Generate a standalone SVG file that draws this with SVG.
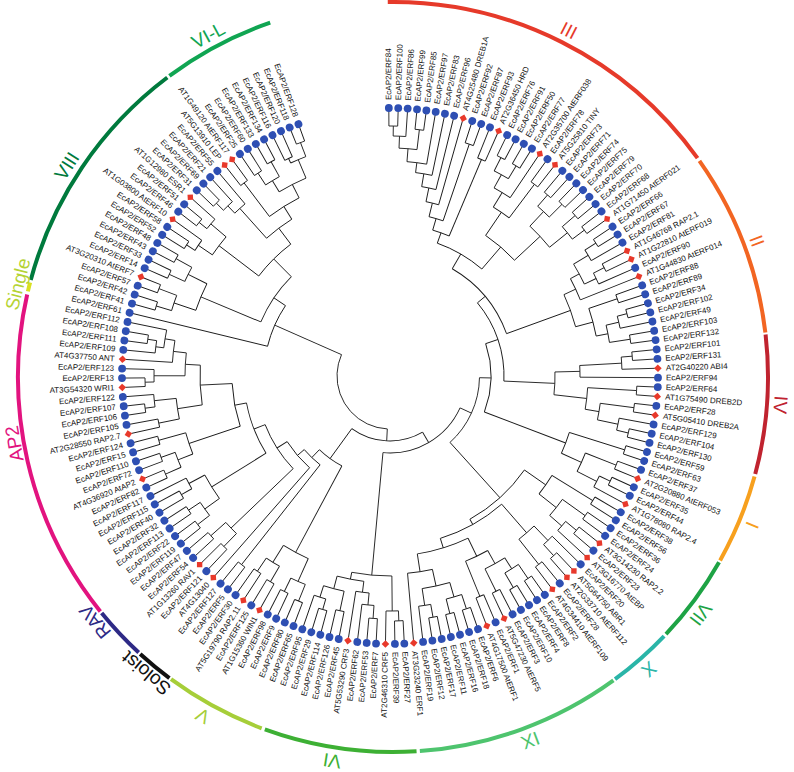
<svg xmlns="http://www.w3.org/2000/svg" width="794" height="772" viewBox="0 0 794 772">
<style>
.t path,.t circle{fill:none;stroke:#1a1a1a;stroke-width:.9}
.lv text{font-family:"Liberation Sans",Arial,sans-serif;font-size:8px;fill:#111;dominant-baseline:central}
.lv .f{text-anchor:end}
.rg circle{fill:none;stroke-width:4}
.lb text{font-family:"Liberation Sans",Arial,sans-serif;font-size:19px;text-anchor:middle}
</style>
<defs>
<circle id="b" cx="268" cy="0" r="3.9" fill="#2e4fb3"/>
<rect id="d" x="265.3" y="-2.7" width="5.4" height="5.4" fill="#e8392b" transform="rotate(45 268 0)"/>
</defs>
<rect width="794" height="772" fill="#fff"/>
<g id="ring" class="rg" transform="translate(393 377)">
<circle r="375" pathLength="360" stroke-dasharray="55.1 999" transform="rotate(-90.8)" stroke="#e63a2a"/>
<circle r="375" pathLength="360" stroke-dasharray="28.4 999" transform="rotate(-35.2)" stroke="#f26522"/>
<circle r="375" pathLength="360" stroke-dasharray="21.5 999" transform="rotate(-6.5)" stroke="#c0232f"/>
<circle r="375" pathLength="360" stroke-dasharray="13.9 999" transform="rotate(15.4)" stroke="#f7a01e"/>
<circle r="375" pathLength="360" stroke-dasharray="13.7 999" transform="rotate(29.6)" stroke="#1ea345"/>
<circle r="375" pathLength="360" stroke-dasharray="10 999" transform="rotate(43.7)" stroke="#2ab5a8"/>
<circle r="375" pathLength="360" stroke-dasharray="31.9 999" transform="rotate(54)" stroke="#4ec46e"/>
<circle r="375" pathLength="360" stroke-dasharray="23.6 999" transform="rotate(86.4)" stroke="#3db034"/>
<circle r="375" pathLength="360" stroke-dasharray="15.8 999" transform="rotate(110.5)" stroke="#a6ce39"/>
<circle r="375" pathLength="360" stroke-dasharray="5.8 999" transform="rotate(126.6)" stroke="#111"/>
<circle r="375" pathLength="360" stroke-dasharray="8.3 999" transform="rotate(132.7)" stroke="#2e2a86"/>
<circle r="375" pathLength="360" stroke-dasharray="51.4 999" transform="rotate(141.3)" stroke="#e2137f"/>
<circle r="375" pathLength="360" stroke-dasharray="1.4 999" transform="rotate(193.2)" stroke="#d9e021"/>
<circle r="375" pathLength="360" stroke-dasharray="38 999" transform="rotate(195)" stroke="#007a3d"/>
<circle r="375" pathLength="360" stroke-dasharray="17.5 999" transform="rotate(233.4)" stroke="#10a552"/>
</g>
<g id="labels" class="lb">
<text transform="translate(393 377) rotate(26.9)" y="-382" fill="#e63a2a">III</text>
<text transform="translate(393 377) rotate(69.5)" y="-382" fill="#f26522">II</text>
<text transform="translate(393 377) rotate(94.1)" y="-382" fill="#c0232f">IV</text>
<text transform="translate(393 377) rotate(112.4)" y="-382" fill="#f7a01e">I</text>
<text transform="translate(393 377) rotate(127.6)" y="-382" fill="#1ea345">VII</text>
<text transform="translate(393 377) rotate(138.8)" y="-382" fill="#2ab5a8">X</text>
<text transform="translate(393 377) rotate(159.3)" y="-382" fill="#4ec46e">IX</text>
<text transform="translate(393 377) rotate(189)" y="-382" fill="#3db034">VI</text>
<text transform="translate(393 377) rotate(209.3)" y="-382" fill="#a6ce39">V</text>
<text transform="translate(393 377) rotate(219.8)" y="-379" fill="#111" font-size="14">Soloist</text>
<text transform="translate(393 377) rotate(230.6)" y="-379" fill="#2e2a86" font-size="16">RAV</text>
<text transform="translate(393 377) rotate(260)" y="-378" fill="#e2137f" font-size="18">AP2</text>
<text transform="translate(393 377) rotate(283.9)" y="-380" fill="#b5d334" font-size="8.5">Single</text>
<text transform="translate(393 377) rotate(302.9)" y="-382" fill="#007a3d">VIII</text>
<text transform="translate(393 377) rotate(331.6)" y="-382" fill="#10a552">VI-L</text>
</g>
<g id="connectors" class="t" transform="translate(390 376) rotate(-90.25)">
<circle r="53" pathLength="360" stroke-dasharray="110.88 999" transform="rotate(183.17)"/>
<circle r="250" pathLength="360" stroke-dasharray="2.01 999" transform="rotate(0)"/><path d="M240 0H250" transform="rotate(1.01)"/>
<circle r="240" pathLength="360" stroke-dasharray="3.02 999" transform="rotate(1.01)"/><path d="M228 0H240" transform="rotate(2.52)"/>
<circle r="248" pathLength="360" stroke-dasharray="2.01 999" transform="rotate(6.04)"/><path d="M228 0H248" transform="rotate(7.05)"/>
<circle r="228" pathLength="360" stroke-dasharray="4.53 999" transform="rotate(2.52)"/><path d="M215 0H228" transform="rotate(4.78)"/>
<circle r="215" pathLength="360" stroke-dasharray="5.29 999" transform="rotate(4.78)"/><path d="M205 0H215" transform="rotate(7.42)"/>
<circle r="205" pathLength="360" stroke-dasharray="4.66 999" transform="rotate(7.42)"/><path d="M192 0H205" transform="rotate(9.75)"/>
<circle r="192" pathLength="360" stroke-dasharray="4.34 999" transform="rotate(9.75)"/><path d="M178 0H192" transform="rotate(11.92)"/>
<circle r="178" pathLength="360" stroke-dasharray="4.19 999" transform="rotate(11.92)"/><path d="M164 0H178" transform="rotate(14.02)"/>
<circle r="245" pathLength="360" stroke-dasharray="2.02 999" transform="rotate(18.12)"/><path d="M164 0H245" transform="rotate(19.13)"/>
<circle r="164" pathLength="360" stroke-dasharray="5.11 999" transform="rotate(14.02)"/><path d="M152 0H164" transform="rotate(16.57)"/>
<circle r="235" pathLength="360" stroke-dasharray="2.01 999" transform="rotate(22.15)"/><path d="M152 0H235" transform="rotate(23.16)"/>
<circle r="152" pathLength="360" stroke-dasharray="6.59 999" transform="rotate(16.57)"/><path d="M141 0H152" transform="rotate(19.86)"/>
<circle r="245" pathLength="360" stroke-dasharray="2.01 999" transform="rotate(26.18)"/><path d="M230 0H245" transform="rotate(27.18)"/>
<circle r="245" pathLength="360" stroke-dasharray="2.02 999" transform="rotate(30.2)"/><path d="M230 0H245" transform="rotate(31.21)"/>
<circle r="230" pathLength="360" stroke-dasharray="4.03 999" transform="rotate(27.18)"/><path d="M215 0H230" transform="rotate(29.2)"/>
<circle r="215" pathLength="360" stroke-dasharray="5.03 999" transform="rotate(29.2)"/><path d="M198 0H215" transform="rotate(31.71)"/>
<circle r="240" pathLength="360" stroke-dasharray="2.02 999" transform="rotate(36.24)"/><path d="M198 0H240" transform="rotate(37.25)"/>
<circle r="198" pathLength="360" stroke-dasharray="5.54 999" transform="rotate(31.71)"/><path d="M170 0H198" transform="rotate(34.48)"/>
<circle r="240" pathLength="360" stroke-dasharray="2.01 999" transform="rotate(40.27)"/><path d="M225 0H240" transform="rotate(41.28)"/>
<circle r="243" pathLength="360" stroke-dasharray="2.01 999" transform="rotate(44.3)"/><path d="M225 0H243" transform="rotate(45.3)"/>
<circle r="225" pathLength="360" stroke-dasharray="4.02 999" transform="rotate(41.28)"/><path d="M205 0H225" transform="rotate(43.29)"/>
<circle r="245" pathLength="360" stroke-dasharray="2.02 999" transform="rotate(48.32)"/><path d="M228 0H245" transform="rotate(49.33)"/>
<circle r="243" pathLength="360" stroke-dasharray="2.01 999" transform="rotate(52.35)"/><path d="M228 0H243" transform="rotate(53.36)"/>
<circle r="228" pathLength="360" stroke-dasharray="4.03 999" transform="rotate(49.33)"/><path d="M205 0H228" transform="rotate(51.34)"/>
<circle r="205" pathLength="360" stroke-dasharray="8.05 999" transform="rotate(43.29)"/><path d="M170 0H205" transform="rotate(47.32)"/>
<circle r="170" pathLength="360" stroke-dasharray="12.84 999" transform="rotate(34.48)"/><path d="M141 0H170" transform="rotate(40.9)"/>
<circle r="141" pathLength="360" stroke-dasharray="21.04 999" transform="rotate(19.86)"/><path d="M124 0H141" transform="rotate(30.38)"/>
<circle r="245" pathLength="360" stroke-dasharray="2.01 999" transform="rotate(56.38)"/><path d="M232 0H245" transform="rotate(57.38)"/>
<circle r="232" pathLength="360" stroke-dasharray="3.03 999" transform="rotate(57.38)"/><path d="M215 0H232" transform="rotate(58.89)"/>
<circle r="240" pathLength="360" stroke-dasharray="2.01 999" transform="rotate(62.42)"/><path d="M228 0H240" transform="rotate(63.43)"/>
<circle r="228" pathLength="360" stroke-dasharray="3.02 999" transform="rotate(63.43)"/><path d="M215 0H228" transform="rotate(64.94)"/>
<circle r="215" pathLength="360" stroke-dasharray="6.05 999" transform="rotate(58.89)"/><path d="M205 0H215" transform="rotate(61.92)"/>
<circle r="205" pathLength="360" stroke-dasharray="6.54 999" transform="rotate(61.92)"/><path d="M192 0H205" transform="rotate(65.19)"/>
<circle r="240" pathLength="360" stroke-dasharray="2.02 999" transform="rotate(70.47)"/><path d="M210 0H240" transform="rotate(71.48)"/>
<circle r="245" pathLength="360" stroke-dasharray="2.01 999" transform="rotate(74.5)"/><path d="M235 0H245" transform="rotate(75.51)"/>
<circle r="235" pathLength="360" stroke-dasharray="3.02 999" transform="rotate(75.51)"/><path d="M222 0H235" transform="rotate(77.02)"/>
<circle r="243" pathLength="360" stroke-dasharray="2.01 999" transform="rotate(80.54)"/><path d="M222 0H243" transform="rotate(81.55)"/>
<circle r="222" pathLength="360" stroke-dasharray="4.53 999" transform="rotate(77.02)"/><path d="M210 0H222" transform="rotate(79.28)"/>
<circle r="210" pathLength="360" stroke-dasharray="7.8 999" transform="rotate(71.48)"/><path d="M192 0H210" transform="rotate(75.38)"/>
<circle r="192" pathLength="360" stroke-dasharray="10.19 999" transform="rotate(65.19)"/><path d="M124 0H192" transform="rotate(70.28)"/>
<circle r="124" pathLength="360" stroke-dasharray="39.9 999" transform="rotate(30.38)"/><path d="M114 0H124" transform="rotate(50.33)"/>
<circle r="243" pathLength="360" stroke-dasharray="2.01 999" transform="rotate(84.57)"/><path d="M232 0H243" transform="rotate(85.57)"/>
<circle r="232" pathLength="360" stroke-dasharray="3.02 999" transform="rotate(85.57)"/><path d="M190 0H232" transform="rotate(87.08)"/>
<circle r="190" pathLength="360" stroke-dasharray="3.53 999" transform="rotate(87.08)"/><path d="M165 0H190" transform="rotate(88.85)"/>
<circle r="247" pathLength="360" stroke-dasharray="2.01 999" transform="rotate(92.62)"/><path d="M198 0H247" transform="rotate(93.63)"/>
<circle r="246" pathLength="360" stroke-dasharray="2.01 999" transform="rotate(96.65)"/><path d="M212 0H246" transform="rotate(97.65)"/>
<circle r="245" pathLength="360" stroke-dasharray="2.01 999" transform="rotate(102.69)"/><path d="M233 0H245" transform="rotate(103.7)"/>
<circle r="233" pathLength="360" stroke-dasharray="3.02 999" transform="rotate(100.68)"/><path d="M212 0H233" transform="rotate(102.19)"/>
<circle r="212" pathLength="360" stroke-dasharray="4.54 999" transform="rotate(97.65)"/><path d="M198 0H212" transform="rotate(99.92)"/>
<circle r="198" pathLength="360" stroke-dasharray="6.29 999" transform="rotate(93.63)"/><path d="M165 0H198" transform="rotate(96.77)"/>
<circle r="165" pathLength="360" stroke-dasharray="7.92 999" transform="rotate(88.85)"/><path d="M114 0H165" transform="rotate(92.81)"/>
<circle r="114" pathLength="360" stroke-dasharray="42.48 999" transform="rotate(50.33)"/><path d="M101 0H114" transform="rotate(71.57)"/>
<circle r="246" pathLength="360" stroke-dasharray="2.01 999" transform="rotate(106.72)"/><path d="M188 0H246" transform="rotate(107.72)"/>
<circle r="243" pathLength="360" stroke-dasharray="2.02 999" transform="rotate(110.74)"/><path d="M210 0H243" transform="rotate(111.75)"/>
<circle r="244" pathLength="360" stroke-dasharray="2.01 999" transform="rotate(114.77)"/><path d="M232 0H244" transform="rotate(115.78)"/>
<circle r="232" pathLength="360" stroke-dasharray="3.02 999" transform="rotate(115.78)"/><path d="M210 0H232" transform="rotate(117.29)"/>
<circle r="210" pathLength="360" stroke-dasharray="5.54 999" transform="rotate(111.75)"/><path d="M188 0H210" transform="rotate(114.52)"/>
<circle r="188" pathLength="360" stroke-dasharray="6.8 999" transform="rotate(107.72)"/><path d="M101 0H188" transform="rotate(111.12)"/>
<circle r="101" pathLength="360" stroke-dasharray="39.55 999" transform="rotate(71.57)"/><path d="M89.5 0H101" transform="rotate(91.35)"/>
<circle r="238" pathLength="360" stroke-dasharray="2.01 999" transform="rotate(120.81)"/><path d="M190 0H238" transform="rotate(121.82)"/>
<circle r="240" pathLength="360" stroke-dasharray="2.01 999" transform="rotate(124.84)"/><path d="M212 0H240" transform="rotate(125.84)"/>
<circle r="242" pathLength="360" stroke-dasharray="2.02 999" transform="rotate(128.86)"/><path d="M228 0H242" transform="rotate(129.87)"/>
<circle r="228" pathLength="360" stroke-dasharray="3.02 999" transform="rotate(129.87)"/><path d="M212 0H228" transform="rotate(131.38)"/>
<circle r="212" pathLength="360" stroke-dasharray="5.54 999" transform="rotate(125.84)"/><path d="M190 0H212" transform="rotate(128.61)"/>
<circle r="190" pathLength="360" stroke-dasharray="6.79 999" transform="rotate(121.82)"/><path d="M164 0H190" transform="rotate(125.21)"/>
<circle r="243" pathLength="360" stroke-dasharray="2.01 999" transform="rotate(136.92)"/><path d="M228 0H243" transform="rotate(137.92)"/>
<circle r="228" pathLength="360" stroke-dasharray="3.02 999" transform="rotate(134.9)"/><path d="M208 0H228" transform="rotate(136.41)"/>
<circle r="240" pathLength="360" stroke-dasharray="2.01 999" transform="rotate(140.95)"/><path d="M208 0H240" transform="rotate(141.95)"/>
<circle r="208" pathLength="360" stroke-dasharray="5.54 999" transform="rotate(136.41)"/><path d="M170 0H208" transform="rotate(139.18)"/>
<circle r="245" pathLength="360" stroke-dasharray="2.02 999" transform="rotate(144.97)"/><path d="M228 0H245" transform="rotate(145.98)"/>
<circle r="245" pathLength="360" stroke-dasharray="2.01 999" transform="rotate(149)"/><path d="M228 0H245" transform="rotate(150.01)"/>
<circle r="228" pathLength="360" stroke-dasharray="4.03 999" transform="rotate(145.98)"/><path d="M215 0H228" transform="rotate(147.99)"/>
<circle r="240" pathLength="360" stroke-dasharray="2.01 999" transform="rotate(153.03)"/><path d="M215 0H240" transform="rotate(154.03)"/>
<circle r="215" pathLength="360" stroke-dasharray="6.04 999" transform="rotate(147.99)"/><path d="M200 0H215" transform="rotate(151.01)"/>
<circle r="238" pathLength="360" stroke-dasharray="2.02 999" transform="rotate(157.05)"/><path d="M200 0H238" transform="rotate(158.06)"/>
<circle r="200" pathLength="360" stroke-dasharray="7.05 999" transform="rotate(151.01)"/><path d="M180 0H200" transform="rotate(154.54)"/>
<circle r="245" pathLength="360" stroke-dasharray="2.01 999" transform="rotate(161.08)"/><path d="M230 0H245" transform="rotate(162.09)"/>
<circle r="245" pathLength="360" stroke-dasharray="2.01 999" transform="rotate(165.11)"/><path d="M230 0H245" transform="rotate(166.11)"/>
<circle r="230" pathLength="360" stroke-dasharray="4.02 999" transform="rotate(162.09)"/><path d="M215 0H230" transform="rotate(164.1)"/>
<circle r="245" pathLength="360" stroke-dasharray="2.02 999" transform="rotate(169.13)"/><path d="M232 0H245" transform="rotate(170.14)"/>
<circle r="232" pathLength="360" stroke-dasharray="3.02 999" transform="rotate(170.14)"/><path d="M215 0H232" transform="rotate(171.65)"/>
<circle r="215" pathLength="360" stroke-dasharray="7.55 999" transform="rotate(164.1)"/><path d="M198 0H215" transform="rotate(167.88)"/>
<circle r="198" pathLength="360" stroke-dasharray="7.29 999" transform="rotate(167.88)"/><path d="M180 0H198" transform="rotate(171.52)"/>
<circle r="180" pathLength="360" stroke-dasharray="16.98 999" transform="rotate(154.54)"/><path d="M170 0H180" transform="rotate(163.03)"/>
<circle r="170" pathLength="360" stroke-dasharray="23.85 999" transform="rotate(139.18)"/><path d="M164 0H170" transform="rotate(151.11)"/>
<circle r="164" pathLength="360" stroke-dasharray="25.9 999" transform="rotate(125.21)"/><path d="M89.5 0H164" transform="rotate(138.16)"/>
<circle r="89.5" pathLength="360" stroke-dasharray="46.81 999" transform="rotate(91.35)"/><path d="M77 0H89.5" transform="rotate(114.75)"/>
<circle r="245" pathLength="360" stroke-dasharray="2.01 999" transform="rotate(177.19)"/><path d="M235 0H245" transform="rotate(178.19)"/>
<circle r="235" pathLength="360" stroke-dasharray="3.03 999" transform="rotate(178.19)"/><path d="M200 0H235" transform="rotate(179.71)"/>
<circle r="243" pathLength="360" stroke-dasharray="2.01 999" transform="rotate(183.23)"/><path d="M230 0H243" transform="rotate(184.24)"/>
<circle r="230" pathLength="360" stroke-dasharray="3.02 999" transform="rotate(184.24)"/><path d="M218 0H230" transform="rotate(185.75)"/>
<circle r="218" pathLength="360" stroke-dasharray="3.52 999" transform="rotate(185.75)"/><path d="M207 0H218" transform="rotate(187.51)"/>
<circle r="240" pathLength="360" stroke-dasharray="2.02 999" transform="rotate(191.28)"/><path d="M220 0H240" transform="rotate(192.29)"/>
<circle r="243" pathLength="360" stroke-dasharray="2.01 999" transform="rotate(195.31)"/><path d="M232 0H243" transform="rotate(196.32)"/>
<circle r="232" pathLength="360" stroke-dasharray="3.02 999" transform="rotate(196.32)"/><path d="M220 0H232" transform="rotate(197.83)"/>
<circle r="220" pathLength="360" stroke-dasharray="5.54 999" transform="rotate(192.29)"/><path d="M207 0H220" transform="rotate(195.06)"/>
<circle r="207" pathLength="360" stroke-dasharray="7.55 999" transform="rotate(187.51)"/><path d="M200 0H207" transform="rotate(191.28)"/>
<circle r="200" pathLength="360" stroke-dasharray="11.57 999" transform="rotate(179.71)"/><path d="M77 0H200" transform="rotate(185.49)"/>
<circle r="77" pathLength="360" stroke-dasharray="70.74 999" transform="rotate(114.75)"/><path d="M65 0H77" transform="rotate(150.12)"/>
<circle r="243" pathLength="360" stroke-dasharray="2.01 999" transform="rotate(201.35)"/><path d="M225 0H243" transform="rotate(202.36)"/>
<circle r="240" pathLength="360" stroke-dasharray="2.01 999" transform="rotate(205.38)"/><path d="M225 0H240" transform="rotate(206.38)"/>
<circle r="225" pathLength="360" stroke-dasharray="4.02 999" transform="rotate(202.36)"/><path d="M200 0H225" transform="rotate(204.37)"/>
<circle r="238" pathLength="360" stroke-dasharray="2.02 999" transform="rotate(209.4)"/><path d="M220 0H238" transform="rotate(210.41)"/>
<circle r="236" pathLength="360" stroke-dasharray="2.01 999" transform="rotate(213.43)"/><path d="M220 0H236" transform="rotate(214.44)"/>
<circle r="220" pathLength="360" stroke-dasharray="4.03 999" transform="rotate(210.41)"/><path d="M200 0H220" transform="rotate(212.42)"/>
<circle r="200" pathLength="360" stroke-dasharray="8.05 999" transform="rotate(204.37)"/><path d="M102 0H200" transform="rotate(208.4)"/>
<circle r="240" pathLength="360" stroke-dasharray="2.01 999" transform="rotate(217.46)"/><path d="M113 0H240" transform="rotate(218.46)"/>
<circle r="238" pathLength="360" stroke-dasharray="2.01 999" transform="rotate(223.5)"/><path d="M220 0H238" transform="rotate(224.51)"/>
<circle r="240" pathLength="360" stroke-dasharray="2.01 999" transform="rotate(227.53)"/><path d="M220 0H240" transform="rotate(228.53)"/>
<circle r="220" pathLength="360" stroke-dasharray="4.02 999" transform="rotate(224.51)"/><path d="M134 0H220" transform="rotate(226.52)"/>
<circle r="243" pathLength="360" stroke-dasharray="2.02 999" transform="rotate(231.55)"/><path d="M228 0H243" transform="rotate(232.56)"/>
<circle r="242" pathLength="360" stroke-dasharray="2.01 999" transform="rotate(235.58)"/><path d="M228 0H242" transform="rotate(236.59)"/>
<circle r="228" pathLength="360" stroke-dasharray="4.03 999" transform="rotate(232.56)"/><path d="M210 0H228" transform="rotate(234.57)"/>
<circle r="240" pathLength="360" stroke-dasharray="2.01 999" transform="rotate(239.61)"/><path d="M228 0H240" transform="rotate(240.61)"/>
<circle r="228" pathLength="360" stroke-dasharray="3.02 999" transform="rotate(240.61)"/><path d="M210 0H228" transform="rotate(242.12)"/>
<circle r="210" pathLength="360" stroke-dasharray="7.55 999" transform="rotate(234.57)"/><path d="M146 0H210" transform="rotate(238.35)"/>
<circle r="245" pathLength="360" stroke-dasharray="2.01 999" transform="rotate(245.65)"/><path d="M228 0H245" transform="rotate(246.65)"/>
<circle r="243" pathLength="360" stroke-dasharray="2.02 999" transform="rotate(249.67)"/><path d="M228 0H243" transform="rotate(250.68)"/>
<circle r="228" pathLength="360" stroke-dasharray="4.03 999" transform="rotate(246.65)"/><path d="M212 0H228" transform="rotate(248.67)"/>
<circle r="240" pathLength="360" stroke-dasharray="2.01 999" transform="rotate(253.7)"/><path d="M212 0H240" transform="rotate(254.71)"/>
<circle r="212" pathLength="360" stroke-dasharray="6.04 999" transform="rotate(248.67)"/><path d="M158 0H212" transform="rotate(251.69)"/>
<circle r="236" pathLength="360" stroke-dasharray="2.01 999" transform="rotate(257.73)"/><path d="M215 0H236" transform="rotate(258.73)"/>
<circle r="247" pathLength="360" stroke-dasharray="2.01 999" transform="rotate(261.76)"/><path d="M237 0H247" transform="rotate(262.76)"/>
<circle r="237" pathLength="360" stroke-dasharray="3.02 999" transform="rotate(262.76)"/><path d="M215 0H237" transform="rotate(264.27)"/>
<circle r="215" pathLength="360" stroke-dasharray="5.54 999" transform="rotate(258.73)"/><path d="M190 0H215" transform="rotate(261.5)"/>
<circle r="245" pathLength="360" stroke-dasharray="2.01 999" transform="rotate(267.8)"/><path d="M236 0H245" transform="rotate(268.8)"/>
<circle r="236" pathLength="360" stroke-dasharray="3.02 999" transform="rotate(268.8)"/><path d="M205 0H236" transform="rotate(270.31)"/>
<circle r="245" pathLength="360" stroke-dasharray="2.01 999" transform="rotate(277.86)"/><path d="M236 0H245" transform="rotate(278.87)"/>
<circle r="236" pathLength="360" stroke-dasharray="3.02 999" transform="rotate(275.85)"/><path d="M228 0H236" transform="rotate(277.36)"/>
<circle r="228" pathLength="360" stroke-dasharray="4.53 999" transform="rotate(277.36)"/><path d="M218 0H228" transform="rotate(279.63)"/>
<circle r="218" pathLength="360" stroke-dasharray="5.79 999" transform="rotate(273.84)"/><path d="M205 0H218" transform="rotate(276.73)"/>
<circle r="205" pathLength="360" stroke-dasharray="6.42 999" transform="rotate(270.31)"/><path d="M190 0H205" transform="rotate(273.52)"/>
<circle r="190" pathLength="360" stroke-dasharray="12.02 999" transform="rotate(261.5)"/><path d="M158 0H190" transform="rotate(267.51)"/>
<circle r="158" pathLength="360" stroke-dasharray="15.82 999" transform="rotate(251.69)"/><path d="M146 0H158" transform="rotate(259.6)"/>
<circle r="146" pathLength="360" stroke-dasharray="21.25 999" transform="rotate(238.35)"/><path d="M134 0H146" transform="rotate(248.97)"/>
<circle r="134" pathLength="360" stroke-dasharray="22.45 999" transform="rotate(226.52)"/><path d="M122 0H134" transform="rotate(237.75)"/>
<circle r="122" pathLength="360" stroke-dasharray="16.26 999" transform="rotate(221.49)"/><path d="M113 0H122" transform="rotate(229.62)"/>
<circle r="113" pathLength="360" stroke-dasharray="11.16 999" transform="rotate(218.46)"/><path d="M102 0H113" transform="rotate(224.04)"/>
<circle r="102" pathLength="360" stroke-dasharray="15.64 999" transform="rotate(208.4)"/><path d="M65 0H102" transform="rotate(216.22)"/>
<circle r="65" pathLength="360" stroke-dasharray="66.1 999" transform="rotate(150.12)"/><path d="M53 0H65" transform="rotate(183.17)"/>
<circle r="244" pathLength="360" stroke-dasharray="2.01 999" transform="rotate(285.92)"/><path d="M228 0H244" transform="rotate(286.92)"/>
<circle r="247" pathLength="360" stroke-dasharray="2.02 999" transform="rotate(289.94)"/><path d="M228 0H247" transform="rotate(290.95)"/>
<circle r="228" pathLength="360" stroke-dasharray="4.03 999" transform="rotate(286.92)"/><path d="M205 0H228" transform="rotate(288.94)"/>
<circle r="243" pathLength="360" stroke-dasharray="2.01 999" transform="rotate(293.97)"/><path d="M226 0H243" transform="rotate(294.98)"/>
<circle r="244" pathLength="360" stroke-dasharray="2.01 999" transform="rotate(298)"/><path d="M226 0H244" transform="rotate(299)"/>
<circle r="226" pathLength="360" stroke-dasharray="4.02 999" transform="rotate(294.98)"/><path d="M205 0H226" transform="rotate(296.99)"/>
<circle r="205" pathLength="360" stroke-dasharray="8.05 999" transform="rotate(288.94)"/><path d="M140 0H205" transform="rotate(292.96)"/>
<circle r="242" pathLength="360" stroke-dasharray="2.01 999" transform="rotate(302.03)"/><path d="M232 0H242" transform="rotate(303.03)"/>
<circle r="232" pathLength="360" stroke-dasharray="3.02 999" transform="rotate(303.03)"/><path d="M215 0H232" transform="rotate(304.54)"/>
<circle r="245" pathLength="360" stroke-dasharray="2.01 999" transform="rotate(308.07)"/><path d="M235 0H245" transform="rotate(309.07)"/>
<circle r="235" pathLength="360" stroke-dasharray="3.02 999" transform="rotate(309.07)"/><path d="M215 0H235" transform="rotate(310.58)"/>
<circle r="215" pathLength="360" stroke-dasharray="6.04 999" transform="rotate(304.54)"/><path d="M165 0H215" transform="rotate(307.56)"/>
<circle r="245" pathLength="360" stroke-dasharray="2.01 999" transform="rotate(314.11)"/><path d="M235 0H245" transform="rotate(315.11)"/>
<circle r="235" pathLength="360" stroke-dasharray="3.02 999" transform="rotate(315.11)"/><path d="M225 0H235" transform="rotate(316.62)"/>
<circle r="225" pathLength="360" stroke-dasharray="3.53 999" transform="rotate(316.62)"/><path d="M185 0H225" transform="rotate(318.39)"/>
<circle r="242" pathLength="360" stroke-dasharray="2.01 999" transform="rotate(322.16)"/><path d="M200 0H242" transform="rotate(323.17)"/>
<circle r="242" pathLength="360" stroke-dasharray="2.01 999" transform="rotate(326.19)"/><path d="M228 0H242" transform="rotate(327.19)"/>
<circle r="245" pathLength="360" stroke-dasharray="2.02 999" transform="rotate(330.21)"/><path d="M228 0H245" transform="rotate(331.22)"/>
<circle r="228" pathLength="360" stroke-dasharray="4.03 999" transform="rotate(327.19)"/><path d="M215 0H228" transform="rotate(329.21)"/>
<circle r="240" pathLength="360" stroke-dasharray="2.01 999" transform="rotate(334.24)"/><path d="M235 0H240" transform="rotate(335.25)"/>
<circle r="250" pathLength="360" stroke-dasharray="2.01 999" transform="rotate(338.27)"/><path d="M235 0H250" transform="rotate(339.27)"/>
<circle r="235" pathLength="360" stroke-dasharray="4.02 999" transform="rotate(335.25)"/><path d="M215 0H235" transform="rotate(337.26)"/>
<circle r="215" pathLength="360" stroke-dasharray="8.05 999" transform="rotate(329.21)"/><path d="M200 0H215" transform="rotate(333.23)"/>
<circle r="200" pathLength="360" stroke-dasharray="10.06 999" transform="rotate(323.17)"/><path d="M185 0H200" transform="rotate(328.2)"/>
<circle r="185" pathLength="360" stroke-dasharray="9.81 999" transform="rotate(318.39)"/><path d="M165 0H185" transform="rotate(323.29)"/>
<circle r="165" pathLength="360" stroke-dasharray="15.73 999" transform="rotate(307.56)"/><path d="M140 0H165" transform="rotate(315.43)"/>
<circle r="140" pathLength="360" stroke-dasharray="22.47 999" transform="rotate(292.96)"/><path d="M126 0H140" transform="rotate(304.2)"/>
<circle r="126" pathLength="360" stroke-dasharray="20.3 999" transform="rotate(283.9)"/><path d="M53 0H126" transform="rotate(294.05)"/>
<path d="M250 0H265"/>
<path d="M250 0H265" transform="rotate(2.01)"/>
<path d="M240 0H265" transform="rotate(4.03)"/>
<path d="M248 0H265" transform="rotate(6.04)"/>
<path d="M248 0H265" transform="rotate(8.05)"/>
<path d="M215 0H265" transform="rotate(10.07)"/>
<path d="M205 0H265" transform="rotate(12.08)"/>
<path d="M192 0H265" transform="rotate(14.09)"/>
<path d="M178 0H265" transform="rotate(16.11)"/>
<path d="M245 0H265" transform="rotate(18.12)"/>
<path d="M245 0H265" transform="rotate(20.14)"/>
<path d="M235 0H265" transform="rotate(22.15)"/>
<path d="M235 0H265" transform="rotate(24.16)"/>
<path d="M245 0H265" transform="rotate(26.18)"/>
<path d="M245 0H265" transform="rotate(28.19)"/>
<path d="M245 0H265" transform="rotate(30.2)"/>
<path d="M245 0H265" transform="rotate(32.22)"/>
<path d="M215 0H265" transform="rotate(34.23)"/>
<path d="M240 0H265" transform="rotate(36.24)"/>
<path d="M240 0H265" transform="rotate(38.26)"/>
<path d="M240 0H265" transform="rotate(40.27)"/>
<path d="M240 0H265" transform="rotate(42.28)"/>
<path d="M243 0H265" transform="rotate(44.3)"/>
<path d="M243 0H265" transform="rotate(46.31)"/>
<path d="M245 0H265" transform="rotate(48.32)"/>
<path d="M245 0H265" transform="rotate(50.34)"/>
<path d="M243 0H265" transform="rotate(52.35)"/>
<path d="M243 0H265" transform="rotate(54.36)"/>
<path d="M245 0H265" transform="rotate(56.38)"/>
<path d="M245 0H265" transform="rotate(58.39)"/>
<path d="M232 0H265" transform="rotate(60.41)"/>
<path d="M240 0H265" transform="rotate(62.42)"/>
<path d="M240 0H265" transform="rotate(64.43)"/>
<path d="M228 0H265" transform="rotate(66.45)"/>
<path d="M205 0H265" transform="rotate(68.46)"/>
<path d="M240 0H265" transform="rotate(70.47)"/>
<path d="M240 0H265" transform="rotate(72.49)"/>
<path d="M245 0H265" transform="rotate(74.5)"/>
<path d="M245 0H265" transform="rotate(76.51)"/>
<path d="M235 0H265" transform="rotate(78.53)"/>
<path d="M243 0H265" transform="rotate(80.54)"/>
<path d="M243 0H265" transform="rotate(82.55)"/>
<path d="M243 0H265" transform="rotate(84.57)"/>
<path d="M243 0H265" transform="rotate(86.58)"/>
<path d="M232 0H265" transform="rotate(88.59)"/>
<path d="M190 0H265" transform="rotate(90.61)"/>
<path d="M247 0H265" transform="rotate(92.62)"/>
<path d="M247 0H265" transform="rotate(94.63)"/>
<path d="M246 0H265" transform="rotate(96.65)"/>
<path d="M246 0H265" transform="rotate(98.66)"/>
<path d="M233 0H265" transform="rotate(100.68)"/>
<path d="M245 0H265" transform="rotate(102.69)"/>
<path d="M245 0H265" transform="rotate(104.7)"/>
<path d="M246 0H265" transform="rotate(106.72)"/>
<path d="M246 0H265" transform="rotate(108.73)"/>
<path d="M243 0H265" transform="rotate(110.74)"/>
<path d="M243 0H265" transform="rotate(112.76)"/>
<path d="M244 0H265" transform="rotate(114.77)"/>
<path d="M244 0H265" transform="rotate(116.78)"/>
<path d="M232 0H265" transform="rotate(118.8)"/>
<path d="M238 0H265" transform="rotate(120.81)"/>
<path d="M238 0H265" transform="rotate(122.82)"/>
<path d="M240 0H265" transform="rotate(124.84)"/>
<path d="M240 0H265" transform="rotate(126.85)"/>
<path d="M242 0H265" transform="rotate(128.86)"/>
<path d="M242 0H265" transform="rotate(130.88)"/>
<path d="M228 0H265" transform="rotate(132.89)"/>
<path d="M228 0H265" transform="rotate(134.9)"/>
<path d="M243 0H265" transform="rotate(136.92)"/>
<path d="M243 0H265" transform="rotate(138.93)"/>
<path d="M240 0H265" transform="rotate(140.95)"/>
<path d="M240 0H265" transform="rotate(142.96)"/>
<path d="M245 0H265" transform="rotate(144.97)"/>
<path d="M245 0H265" transform="rotate(146.99)"/>
<path d="M245 0H265" transform="rotate(149)"/>
<path d="M245 0H265" transform="rotate(151.01)"/>
<path d="M240 0H265" transform="rotate(153.03)"/>
<path d="M240 0H265" transform="rotate(155.04)"/>
<path d="M238 0H265" transform="rotate(157.05)"/>
<path d="M238 0H265" transform="rotate(159.07)"/>
<path d="M245 0H265" transform="rotate(161.08)"/>
<path d="M245 0H265" transform="rotate(163.09)"/>
<path d="M245 0H265" transform="rotate(165.11)"/>
<path d="M245 0H265" transform="rotate(167.12)"/>
<path d="M245 0H265" transform="rotate(169.13)"/>
<path d="M245 0H265" transform="rotate(171.15)"/>
<path d="M232 0H265" transform="rotate(173.16)"/>
<path d="M198 0H265" transform="rotate(175.17)"/>
<path d="M245 0H265" transform="rotate(177.19)"/>
<path d="M245 0H265" transform="rotate(179.2)"/>
<path d="M235 0H265" transform="rotate(181.22)"/>
<path d="M243 0H265" transform="rotate(183.23)"/>
<path d="M243 0H265" transform="rotate(185.24)"/>
<path d="M230 0H265" transform="rotate(187.26)"/>
<path d="M218 0H265" transform="rotate(189.27)"/>
<path d="M240 0H265" transform="rotate(191.28)"/>
<path d="M240 0H265" transform="rotate(193.3)"/>
<path d="M243 0H265" transform="rotate(195.31)"/>
<path d="M243 0H265" transform="rotate(197.32)"/>
<path d="M232 0H265" transform="rotate(199.34)"/>
<path d="M243 0H265" transform="rotate(201.35)"/>
<path d="M243 0H265" transform="rotate(203.36)"/>
<path d="M240 0H265" transform="rotate(205.38)"/>
<path d="M240 0H265" transform="rotate(207.39)"/>
<path d="M238 0H265" transform="rotate(209.4)"/>
<path d="M238 0H265" transform="rotate(211.42)"/>
<path d="M236 0H265" transform="rotate(213.43)"/>
<path d="M236 0H265" transform="rotate(215.44)"/>
<path d="M240 0H265" transform="rotate(217.46)"/>
<path d="M240 0H265" transform="rotate(219.47)"/>
<path d="M122 0H265" transform="rotate(221.49)"/>
<path d="M238 0H265" transform="rotate(223.5)"/>
<path d="M238 0H265" transform="rotate(225.51)"/>
<path d="M240 0H265" transform="rotate(227.53)"/>
<path d="M240 0H265" transform="rotate(229.54)"/>
<path d="M243 0H265" transform="rotate(231.55)"/>
<path d="M243 0H265" transform="rotate(233.57)"/>
<path d="M242 0H265" transform="rotate(235.58)"/>
<path d="M242 0H265" transform="rotate(237.59)"/>
<path d="M240 0H265" transform="rotate(239.61)"/>
<path d="M240 0H265" transform="rotate(241.62)"/>
<path d="M228 0H265" transform="rotate(243.63)"/>
<path d="M245 0H265" transform="rotate(245.65)"/>
<path d="M245 0H265" transform="rotate(247.66)"/>
<path d="M243 0H265" transform="rotate(249.67)"/>
<path d="M243 0H265" transform="rotate(251.69)"/>
<path d="M240 0H265" transform="rotate(253.7)"/>
<path d="M240 0H265" transform="rotate(255.71)"/>
<path d="M236 0H265" transform="rotate(257.73)"/>
<path d="M236 0H265" transform="rotate(259.74)"/>
<path d="M247 0H265" transform="rotate(261.76)"/>
<path d="M247 0H265" transform="rotate(263.77)"/>
<path d="M237 0H265" transform="rotate(265.78)"/>
<path d="M245 0H265" transform="rotate(267.8)"/>
<path d="M245 0H265" transform="rotate(269.81)"/>
<path d="M236 0H265" transform="rotate(271.82)"/>
<path d="M218 0H265" transform="rotate(273.84)"/>
<path d="M236 0H265" transform="rotate(275.85)"/>
<path d="M245 0H265" transform="rotate(277.86)"/>
<path d="M245 0H265" transform="rotate(279.87)"/>
<path d="M228 0H265" transform="rotate(281.89)"/>
<path d="M126 0H265" transform="rotate(283.9)"/>
<path d="M244 0H265" transform="rotate(285.92)"/>
<path d="M244 0H265" transform="rotate(287.93)"/>
<path d="M247 0H265" transform="rotate(289.94)"/>
<path d="M247 0H265" transform="rotate(291.96)"/>
<path d="M243 0H265" transform="rotate(293.97)"/>
<path d="M243 0H265" transform="rotate(295.98)"/>
<path d="M244 0H265" transform="rotate(298)"/>
<path d="M244 0H265" transform="rotate(300.01)"/>
<path d="M242 0H265" transform="rotate(302.03)"/>
<path d="M242 0H265" transform="rotate(304.04)"/>
<path d="M232 0H265" transform="rotate(306.05)"/>
<path d="M245 0H265" transform="rotate(308.07)"/>
<path d="M245 0H265" transform="rotate(310.08)"/>
<path d="M235 0H265" transform="rotate(312.09)"/>
<path d="M245 0H265" transform="rotate(314.11)"/>
<path d="M245 0H265" transform="rotate(316.12)"/>
<path d="M235 0H265" transform="rotate(318.13)"/>
<path d="M225 0H265" transform="rotate(320.15)"/>
<path d="M242 0H265" transform="rotate(322.16)"/>
<path d="M242 0H265" transform="rotate(324.17)"/>
<path d="M242 0H265" transform="rotate(326.19)"/>
<path d="M242 0H265" transform="rotate(328.2)"/>
<path d="M245 0H265" transform="rotate(330.21)"/>
<path d="M245 0H265" transform="rotate(332.23)"/>
<path d="M240 0H265" transform="rotate(334.24)"/>
<path d="M240 0H265" transform="rotate(336.25)"/>
<path d="M250 0H265" transform="rotate(338.27)"/>
<path d="M250 0H265" transform="rotate(340.28)"/>
</g>
<g id="leaves" class="lv" transform="translate(390 376) rotate(-90.25)">
<g id="n0"><use href="#b"/><text x="276">EcAP2/ERF84</text></g>
<g id="n1" transform="rotate(2.01)"><use href="#b"/><text x="276">EcAP2/ERF100</text></g>
<g id="n2" transform="rotate(4.03)"><use href="#b"/><text x="276">EcAP2/ERF86</text></g>
<g id="n3" transform="rotate(6.04)"><use href="#b"/><text x="276">EcAP2/ERF99</text></g>
<g id="n4" transform="rotate(8.05)"><use href="#b"/><text x="276">EcAP2/ERF85</text></g>
<g id="n5" transform="rotate(10.07)"><use href="#b"/><text x="276">EcAP2/ERF97</text></g>
<g id="n6" transform="rotate(12.08)"><use href="#b"/><text x="276">EcAP2/ERF83</text></g>
<g id="n7" transform="rotate(14.09)"><use href="#b"/><text x="276">EcAP2/ERF96</text></g>
<g id="n8" transform="rotate(16.11)"><use href="#d"/><text x="276">AT4G25480 DREB1A</text></g>
<g id="n9" transform="rotate(18.12)"><use href="#b"/><text x="276">EcAP2/ERF92</text></g>
<g id="n10" transform="rotate(20.14)"><use href="#b"/><text x="276">EcAP2/ERF87</text></g>
<g id="n11" transform="rotate(22.15)"><use href="#b"/><text x="276">EcAP2/ERF93</text></g>
<g id="n12" transform="rotate(24.16)"><use href="#d"/><text x="276">AT2G36450 HRD</text></g>
<g id="n13" transform="rotate(26.18)"><use href="#b"/><text x="276">EcAP2/ERF76</text></g>
<g id="n14" transform="rotate(28.19)"><use href="#b"/><text x="276">EcAP2/ERF91</text></g>
<g id="n15" transform="rotate(30.2)"><use href="#b"/><text x="276">EcAP2/ERF50</text></g>
<g id="n16" transform="rotate(32.22)"><use href="#b"/><text x="276">EcAP2/ERF77</text></g>
<g id="n17" transform="rotate(34.23)"><use href="#d"/><text x="276">AT2G35700 AtERF038</text></g>
<g id="n18" transform="rotate(36.24)"><use href="#b"/><text x="276">EcAP2/ERF78</text></g>
<g id="n19" transform="rotate(38.26)"><use href="#d"/><text x="276">AT5G25810 TINY</text></g>
<g id="n20" transform="rotate(40.27)"><use href="#b"/><text x="276">EcAP2/ERF73</text></g>
<g id="n21" transform="rotate(42.28)"><use href="#b"/><text x="276">EcAP2/ERF71</text></g>
<g id="n22" transform="rotate(44.3)"><use href="#b"/><text x="276">EcAP2/ERF74</text></g>
<g id="n23" transform="rotate(46.31)"><use href="#b"/><text x="276">EcAP2/ERF75</text></g>
<g id="n24" transform="rotate(48.32)"><use href="#b"/><text x="276">EcAP2/ERF79</text></g>
<g id="n25" transform="rotate(50.34)"><use href="#b"/><text x="276">EcAP2/ERF70</text></g>
<g id="n26" transform="rotate(52.35)"><use href="#b"/><text x="276">EcAP2/ERF68</text></g>
<g id="n27" transform="rotate(54.36)"><use href="#d"/><text x="276">AT1G71450 AtERF021</text></g>
<g id="n28" transform="rotate(56.38)"><use href="#b"/><text x="276">EcAP2/ERF66</text></g>
<g id="n29" transform="rotate(58.39)"><use href="#b"/><text x="276">EcAP2/ERF67</text></g>
<g id="n30" transform="rotate(60.41)"><use href="#b"/><text x="276">EcAP2/ERF81</text></g>
<g id="n31" transform="rotate(62.42)"><use href="#d"/><text x="276">AT1G46768 RAP2.1</text></g>
<g id="n32" transform="rotate(64.43)"><use href="#d"/><text x="276">AT1G22810 AtERF019</text></g>
<g id="n33" transform="rotate(66.45)"><use href="#b"/><text x="276">EcAP2/ERF90</text></g>
<g id="n34" transform="rotate(68.46)"><use href="#d"/><text x="276">AT1G44830 AtERF014</text></g>
<g id="n35" transform="rotate(70.47)"><use href="#b"/><text x="276">EcAP2/ERF88</text></g>
<g id="n36" transform="rotate(72.49)"><use href="#b"/><text x="276">EcAP2/ERF89</text></g>
<g id="n37" transform="rotate(74.5)"><use href="#b"/><text x="276">EcAP2/ERF34</text></g>
<g id="n38" transform="rotate(76.51)"><use href="#b"/><text x="276">EcAP2/ERF102</text></g>
<g id="n39" transform="rotate(78.53)"><use href="#b"/><text x="276">EcAP2/ERF49</text></g>
<g id="n40" transform="rotate(80.54)"><use href="#b"/><text x="276">EcAP2/ERF103</text></g>
<g id="n41" transform="rotate(82.55)"><use href="#b"/><text x="276">EcAP2/ERF132</text></g>
<g id="n42" transform="rotate(84.57)"><use href="#b"/><text x="276">EcAP2/ERF101</text></g>
<g id="n43" transform="rotate(86.58)"><use href="#b"/><text x="276">EcAP2/ERF131</text></g>
<g id="n44" transform="rotate(88.59)"><use href="#d"/><text x="276">AT2G40220 ABI4</text></g>
<g id="n45" transform="rotate(90.61)"><use href="#b"/><text x="276">EcAP2/ERF94</text></g>
<g id="n46" transform="rotate(92.62)"><use href="#b"/><text x="276">EcAP2/ERF64</text></g>
<g id="n47" transform="rotate(94.63)"><use href="#d"/><text x="276">AT1G75490 DREB2D</text></g>
<g id="n48" transform="rotate(96.65)"><use href="#b"/><text x="276">EcAP2/ERF28</text></g>
<g id="n49" transform="rotate(98.66)"><use href="#d"/><text x="276">AT5G05410 DREB2A</text></g>
<g id="n50" transform="rotate(100.68)"><use href="#b"/><text x="276">EcAP2/ERF129</text></g>
<g id="n51" transform="rotate(102.69)"><use href="#b"/><text x="276">EcAP2/ERF104</text></g>
<g id="n52" transform="rotate(104.7)"><use href="#b"/><text x="276">EcAP2/ERF130</text></g>
<g id="n53" transform="rotate(106.72)"><use href="#b"/><text x="276">EcAP2/ERF59</text></g>
<g id="n54" transform="rotate(108.73)"><use href="#b"/><text x="276">EcAP2/ERF63</text></g>
<g id="n55" transform="rotate(110.74)"><use href="#b"/><text x="276">EcAP2/ERF37</text></g>
<g id="n56" transform="rotate(112.76)"><use href="#d"/><text x="276">AT2G20880 AtERF053</text></g>
<g id="n57" transform="rotate(114.77)"><use href="#b"/><text x="276">EcAP2/ERF35</text></g>
<g id="n58" transform="rotate(116.78)"><use href="#b"/><text x="276">EcAP2/ERF44</text></g>
<g id="n59" transform="rotate(118.8)"><use href="#d"/><text x="276">AT1G78080 RAP2.4</text></g>
<g id="n60" transform="rotate(120.81)"><use href="#b"/><text x="276">EcAP2/ERF38</text></g>
<g id="n61" transform="rotate(122.82)"><use href="#b"/><text x="276">EcAP2/ERF56</text></g>
<g id="n62" transform="rotate(124.84)"><use href="#b"/><text x="276">EcAP2/ERF36</text></g>
<g id="n63" transform="rotate(126.85)"><use href="#b"/><text x="276">EcAP2/ERF24</text></g>
<g id="n64" transform="rotate(128.86)"><use href="#d"/><text x="276">AT3G14230 RAP2.2</text></g>
<g id="n65" transform="rotate(130.88)"><use href="#b"/><text x="276">EcAP2/ERF23</text></g>
<g id="n66" transform="rotate(132.89)"><use href="#d"/><text x="276">AT3G16770 AtEBP</text></g>
<g id="n67" transform="rotate(134.9)"><use href="#b"/><text x="276">EcAP2/ERF20</text></g>
<g id="n68" transform="rotate(136.92)"><use href="#d"/><text x="276">AT5G64750 ABR1</text></g>
<g id="n69" transform="rotate(138.93)"><use href="#d"/><text x="276">AT2G33710 AtERF112</text></g>
<g id="n70" transform="rotate(140.95)"><use href="#b"/><text x="276">EcAP2/ERF28</text></g>
<g id="n71" transform="rotate(142.96)"><use href="#d"/><text x="276">AT4G34410 AtERF109</text></g>
<g id="n72" transform="rotate(144.97)"><use href="#b"/><text x="276">EcAP2/ERF2</text></g>
<g id="n73" transform="rotate(146.99)"><use href="#b"/><text x="276">EcAP2/ERF8</text></g>
<g id="n74" transform="rotate(149)"><use href="#b"/><text x="276">EcAP2/ERF4</text></g>
<g id="n75" transform="rotate(151.01)"><use href="#b"/><text x="276">EcAP2/ERF10</text></g>
<g id="n76" transform="rotate(153.03)"><use href="#b"/><text x="276">EcAP2/ERF3</text></g>
<g id="n77" transform="rotate(155.04)"><use href="#d"/><text x="276">AT5G47230 AtERF5</text></g>
<g id="n78" transform="rotate(157.05)"><use href="#b"/><text x="276">EcAP2/ERF1</text></g>
<g id="n79" transform="rotate(159.07)"><use href="#d"/><text x="276">AT4G17500 AtERF1</text></g>
<g id="n80" transform="rotate(161.08)"><use href="#b"/><text x="276">EcAP2/ERF6</text></g>
<g id="n81" transform="rotate(163.09)"><use href="#b"/><text x="276">EcAP2/ERF18</text></g>
<g id="n82" transform="rotate(165.11)"><use href="#b"/><text x="276">EcAP2/ERF16</text></g>
<g id="n83" transform="rotate(167.12)"><use href="#b"/><text x="276">EcAP2/ERF11</text></g>
<g id="n84" transform="rotate(169.13)"><use href="#b"/><text x="276">EcAP2/ERF17</text></g>
<g id="n85" transform="rotate(171.15)"><use href="#b"/><text x="276">EcAP2/ERF12</text></g>
<g id="n86" transform="rotate(173.16)"><use href="#b"/><text x="276">EcAP2/ERF19</text></g>
<g id="n87" transform="rotate(175.17)"><use href="#d"/><text x="276">AT3G23240 ERF1</text></g>
<g id="n88" transform="rotate(177.19)"><use href="#b"/><text x="276">EcAP2/ERF27</text></g>
<g id="n89" transform="rotate(179.2)"><use href="#b"/><text x="276">EcAP2/ERF39</text></g>
<g id="n90" transform="rotate(181.22)"><use href="#d"/><text class="f" x="-276" transform="rotate(180)">AT2G46310 CRF5</text></g>
<g id="n91" transform="rotate(183.23)"><use href="#b"/><text class="f" x="-276" transform="rotate(180)">EcAP2/ERF7</text></g>
<g id="n92" transform="rotate(185.24)"><use href="#b"/><text class="f" x="-276" transform="rotate(180)">EcAP2/ERF53</text></g>
<g id="n93" transform="rotate(187.26)"><use href="#b"/><text class="f" x="-276" transform="rotate(180)">EcAP2/ERF62</text></g>
<g id="n94" transform="rotate(189.27)"><use href="#d"/><text class="f" x="-276" transform="rotate(180)">AT5G53290 CRF3</text></g>
<g id="n95" transform="rotate(191.28)"><use href="#b"/><text class="f" x="-276" transform="rotate(180)">EcAP2/ERF45</text></g>
<g id="n96" transform="rotate(193.3)"><use href="#b"/><text class="f" x="-276" transform="rotate(180)">EcAP2/ERF126</text></g>
<g id="n97" transform="rotate(195.31)"><use href="#b"/><text class="f" x="-276" transform="rotate(180)">EcAP2/ERF114</text></g>
<g id="n98" transform="rotate(197.32)"><use href="#b"/><text class="f" x="-276" transform="rotate(180)">EcAP2/ERF29</text></g>
<g id="n99" transform="rotate(199.34)"><use href="#b"/><text class="f" x="-276" transform="rotate(180)">EcAP2/ERF95</text></g>
<g id="n100" transform="rotate(201.35)"><use href="#b"/><text class="f" x="-276" transform="rotate(180)">EcAP2/ERF65</text></g>
<g id="n101" transform="rotate(203.36)"><use href="#b"/><text class="f" x="-276" transform="rotate(180)">EcAP2/ERF80</text></g>
<g id="n102" transform="rotate(205.38)"><use href="#b"/><text class="f" x="-276" transform="rotate(180)">EcAP2/ERF9</text></g>
<g id="n103" transform="rotate(207.39)"><use href="#b"/><text class="f" x="-276" transform="rotate(180)">EcAP2/ERF98</text></g>
<g id="n104" transform="rotate(209.4)"><use href="#d"/><text class="f" x="-276" transform="rotate(180)">AT1G15360 WIN1</text></g>
<g id="n105" transform="rotate(211.42)"><use href="#b"/><text class="f" x="-276" transform="rotate(180)">EcAP2/ERF125</text></g>
<g id="n106" transform="rotate(213.43)"><use href="#d"/><text class="f" x="-276" transform="rotate(180)">AT5G19790 RAP2.11</text></g>
<g id="n107" transform="rotate(215.44)"><use href="#b"/><text class="f" x="-276" transform="rotate(180)">EcAP2/ERF30</text></g>
<g id="n108" transform="rotate(217.46)"><use href="#b"/><text class="f" x="-276" transform="rotate(180)">EcAP2/ERF5</text></g>
<g id="n109" transform="rotate(219.47)"><use href="#b"/><text class="f" x="-276" transform="rotate(180)">EcAP2/ERF127</text></g>
<g id="n110" transform="rotate(221.49)"><use href="#d"/><text class="f" x="-276" transform="rotate(180)">AT4G13040</text></g>
<g id="n111" transform="rotate(223.5)"><use href="#b"/><text class="f" x="-276" transform="rotate(180)">EcAP2/ERF121</text></g>
<g id="n112" transform="rotate(225.51)"><use href="#d"/><text class="f" x="-276" transform="rotate(180)">AT1G13260 RAV1</text></g>
<g id="n113" transform="rotate(227.53)"><use href="#b"/><text class="f" x="-276" transform="rotate(180)">EcAP2/ERF54</text></g>
<g id="n114" transform="rotate(229.54)"><use href="#b"/><text class="f" x="-276" transform="rotate(180)">EcAP2/ERF47</text></g>
<g id="n115" transform="rotate(231.55)"><use href="#b"/><text class="f" x="-276" transform="rotate(180)">EcAP2/ERF119</text></g>
<g id="n116" transform="rotate(233.57)"><use href="#b"/><text class="f" x="-276" transform="rotate(180)">EcAP2/ERF22</text></g>
<g id="n117" transform="rotate(235.58)"><use href="#b"/><text class="f" x="-276" transform="rotate(180)">EcAP2/ERF113</text></g>
<g id="n118" transform="rotate(237.59)"><use href="#b"/><text class="f" x="-276" transform="rotate(180)">EcAP2/ERF32</text></g>
<g id="n119" transform="rotate(239.61)"><use href="#b"/><text class="f" x="-276" transform="rotate(180)">EcAP2/ERF40</text></g>
<g id="n120" transform="rotate(241.62)"><use href="#b"/><text class="f" x="-276" transform="rotate(180)">EcAP2/ERF115</text></g>
<g id="n121" transform="rotate(243.63)"><use href="#b"/><text class="f" x="-276" transform="rotate(180)">EcAP2/ERF117</text></g>
<g id="n122" transform="rotate(245.65)"><use href="#b"/><text class="f" x="-276" transform="rotate(180)">EcAP2/ERF82</text></g>
<g id="n123" transform="rotate(247.66)"><use href="#d"/><text class="f" x="-276" transform="rotate(180)">AT4G36920 AtAP2</text></g>
<g id="n124" transform="rotate(249.67)"><use href="#b"/><text class="f" x="-276" transform="rotate(180)">EcAP2/ERF72</text></g>
<g id="n125" transform="rotate(251.69)"><use href="#b"/><text class="f" x="-276" transform="rotate(180)">EcAP2/ERF110</text></g>
<g id="n126" transform="rotate(253.7)"><use href="#b"/><text class="f" x="-276" transform="rotate(180)">EcAP2/ERF15</text></g>
<g id="n127" transform="rotate(255.71)"><use href="#b"/><text class="f" x="-276" transform="rotate(180)">EcAP2/ERF124</text></g>
<g id="n128" transform="rotate(257.73)"><use href="#d"/><text class="f" x="-276" transform="rotate(180)">AT2G28550 RAP2.7</text></g>
<g id="n129" transform="rotate(259.74)"><use href="#b"/><text class="f" x="-276" transform="rotate(180)">EcAP2/ERF105</text></g>
<g id="n130" transform="rotate(261.76)"><use href="#b"/><text class="f" x="-276" transform="rotate(180)">EcAP2/ERF106</text></g>
<g id="n131" transform="rotate(263.77)"><use href="#b"/><text class="f" x="-276" transform="rotate(180)">EcAP2/ERF107</text></g>
<g id="n132" transform="rotate(265.78)"><use href="#b"/><text class="f" x="-276" transform="rotate(180)">EcAP2/ERF122</text></g>
<g id="n133" transform="rotate(267.8)"><use href="#d"/><text class="f" x="-276" transform="rotate(180)">AT3G54320 WRI1</text></g>
<g id="n134" transform="rotate(269.81)"><use href="#b"/><text class="f" x="-276" transform="rotate(180)">EcAP2/ERF13</text></g>
<g id="n135" transform="rotate(271.82)"><use href="#b"/><text class="f" x="-276" transform="rotate(180)">EcAP2/ERF123</text></g>
<g id="n136" transform="rotate(273.84)"><use href="#d"/><text class="f" x="-276" transform="rotate(180)">AT4G37750 ANT</text></g>
<g id="n137" transform="rotate(275.85)"><use href="#b"/><text class="f" x="-276" transform="rotate(180)">EcAP2/ERF109</text></g>
<g id="n138" transform="rotate(277.86)"><use href="#b"/><text class="f" x="-276" transform="rotate(180)">EcAP2/ERF111</text></g>
<g id="n139" transform="rotate(279.87)"><use href="#b"/><text class="f" x="-276" transform="rotate(180)">EcAP2/ERF108</text></g>
<g id="n140" transform="rotate(281.89)"><use href="#b"/><text class="f" x="-276" transform="rotate(180)">EcAP2/ERF112</text></g>
<g id="n141" transform="rotate(283.9)"><use href="#b"/><text class="f" x="-276" transform="rotate(180)">EcAP2/ERF61</text></g>
<g id="n142" transform="rotate(285.92)"><use href="#b"/><text class="f" x="-276" transform="rotate(180)">EcAP2/ERF41</text></g>
<g id="n143" transform="rotate(287.93)"><use href="#b"/><text class="f" x="-276" transform="rotate(180)">EcAP2/ERF42</text></g>
<g id="n144" transform="rotate(289.94)"><use href="#b"/><text class="f" x="-276" transform="rotate(180)">EcAP2/ERF57</text></g>
<g id="n145" transform="rotate(291.96)"><use href="#d"/><text class="f" x="-276" transform="rotate(180)">AT3G20310 AtERF7</text></g>
<g id="n146" transform="rotate(293.97)"><use href="#b"/><text class="f" x="-276" transform="rotate(180)">EcAP2/ERF14</text></g>
<g id="n147" transform="rotate(295.98)"><use href="#b"/><text class="f" x="-276" transform="rotate(180)">EcAP2/ERF33</text></g>
<g id="n148" transform="rotate(298)"><use href="#b"/><text class="f" x="-276" transform="rotate(180)">EcAP2/ERF43</text></g>
<g id="n149" transform="rotate(300.01)"><use href="#b"/><text class="f" x="-276" transform="rotate(180)">EcAP2/ERF48</text></g>
<g id="n150" transform="rotate(302.03)"><use href="#b"/><text class="f" x="-276" transform="rotate(180)">EcAP2/ERF52</text></g>
<g id="n151" transform="rotate(304.04)"><use href="#b"/><text class="f" x="-276" transform="rotate(180)">EcAP2/ERF58</text></g>
<g id="n152" transform="rotate(306.05)"><use href="#d"/><text class="f" x="-276" transform="rotate(180)">AT1G03800 AtERF10</text></g>
<g id="n153" transform="rotate(308.07)"><use href="#b"/><text class="f" x="-276" transform="rotate(180)">EcAP2/ERF46</text></g>
<g id="n154" transform="rotate(310.08)"><use href="#b"/><text class="f" x="-276" transform="rotate(180)">EcAP2/ERF51</text></g>
<g id="n155" transform="rotate(312.09)"><use href="#d"/><text class="f" x="-276" transform="rotate(180)">AT1G12980 ESR1</text></g>
<g id="n156" transform="rotate(314.11)"><use href="#b"/><text class="f" x="-276" transform="rotate(180)">EcAP2/ERF31</text></g>
<g id="n157" transform="rotate(316.12)"><use href="#b"/><text class="f" x="-276" transform="rotate(180)">EcAP2/ERF69</text></g>
<g id="n158" transform="rotate(318.13)"><use href="#b"/><text class="f" x="-276" transform="rotate(180)">EcAP2/ERF21</text></g>
<g id="n159" transform="rotate(320.15)"><use href="#b"/><text class="f" x="-276" transform="rotate(180)">EcAP2/ERF55</text></g>
<g id="n160" transform="rotate(322.16)"><use href="#d"/><text class="f" x="-276" transform="rotate(180)">AT5G13910 LEP</text></g>
<g id="n161" transform="rotate(324.17)"><use href="#d"/><text class="f" x="-276" transform="rotate(180)">AT1G49120 AtERF117</text></g>
<g id="n162" transform="rotate(326.19)"><use href="#b"/><text class="f" x="-276" transform="rotate(180)">EcAP2/ERF25</text></g>
<g id="n163" transform="rotate(328.2)"><use href="#b"/><text class="f" x="-276" transform="rotate(180)">EcAP2/ERF60</text></g>
<g id="n164" transform="rotate(330.21)"><use href="#b"/><text class="f" x="-276" transform="rotate(180)">EcAP2/ERF133</text></g>
<g id="n165" transform="rotate(332.23)"><use href="#b"/><text class="f" x="-276" transform="rotate(180)">EcAP2/ERF134</text></g>
<g id="n166" transform="rotate(334.24)"><use href="#b"/><text class="f" x="-276" transform="rotate(180)">EcAP2/ERF116</text></g>
<g id="n167" transform="rotate(336.25)"><use href="#b"/><text class="f" x="-276" transform="rotate(180)">EcAP2/ERF120</text></g>
<g id="n168" transform="rotate(338.27)"><use href="#b"/><text class="f" x="-276" transform="rotate(180)">EcAP2/ERF118</text></g>
<g id="n169" transform="rotate(340.28)"><use href="#b"/><text class="f" x="-276" transform="rotate(180)">EcAP2/ERF128</text></g>
</g>
</svg>
